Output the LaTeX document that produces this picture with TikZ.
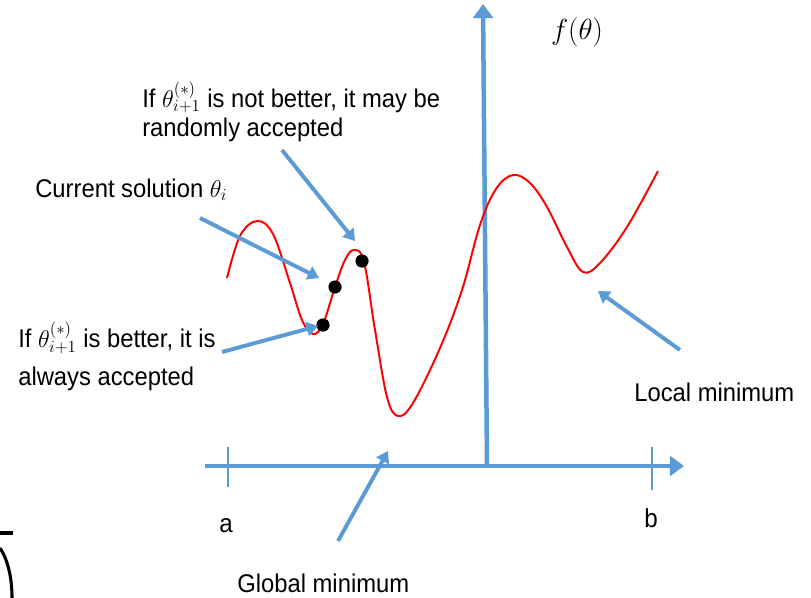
\documentclass[tikz,border=0pt]{standalone}
\usepackage{fontspec}
\setmainfont{Liberation Sans}[FakeStretch=0.93]
\usetikzlibrary{arrows.meta}

\definecolor{axisblue}{RGB}{91,155,213}

\begin{document}
\begin{tikzpicture}[x=0.025cm,y=-0.025cm,
  axisline/.style={axisblue,line width=3.2pt,-{Triangle[length=10pt,width=14pt]}},
  pointer/.style={axisblue,line width=2.8pt,-{Triangle[length=8pt,width=10pt]}},
  tickline/.style={axisblue,line width=1.8pt},
  txt/.style={anchor=base west,inner sep=0pt,align=left,font=\fontsize{18.2}{20.6}\selectfont},
  dot/.style={circle,fill=black,inner sep=0pt,minimum size=0.33cm}]
\useasboundingbox (0,0) rectangle (811,598);

% axes
\coordinate (xstart) at (205,466);
\coordinate (xend) at (684,466);
\coordinate (origin) at (487,466);
\coordinate (ytop) at (483,4);
\draw[axisline] (xstart) -- (xend);
\draw[axisline] (origin) -- (ytop);
\coordinate (ta1) at (228,447);
\coordinate (ta2) at (228,487);
\coordinate (tb1) at (652,447);
\coordinate (tb2) at (652,490);
\draw[tickline] (ta1) -- (ta2);
\draw[tickline] (tb1) -- (tb2);
\node[font=\fontsize{18.5}{20.6}\selectfont,anchor=base] (la) at (226,532) {a};
\node[font=\fontsize{18.5}{20.6}\selectfont,anchor=base] (lb) at (651,527) {b};
\node[font=\fontsize{22}{24}\selectfont] (lf) at (577,32) {$f(\theta)$};

% objective function
\draw[red,line width=1.4pt] plot[smooth,tension=0.6] coordinates {
  (227,278) (240,236) (257,221) (273,234) (290,283)
  (302,320) (313,334) (323,324) (335,287) (345,260)
  (354,250) (364,262) (375,330) (387,397) (398,416) (413,403)
  (440,348) (462,290) (480,225) (496,189) (513,175) (530,183) (547,207)
  (567,247) (583,272) (600,263) (627,227) (658,171)};

% candidate points
\node[dot] (d1) at (323,325) {};
\node[dot] (d2) at (335,287) {};
\node[dot] (d3) at (362,261) {};

% labels
\node[txt] (notbetter) at (142,136) {If $\theta^{(*)}_{i+1}$ is not better, it may be\\randomly accepted};
\node[txt] (current) at (35,197) {Current solution $\theta_i$};
\node[txt] (better) at (18,385) {If $\theta^{(*)}_{i+1}$ is better, it is\\[6.3pt]always accepted};
\node[txt] (localmin) at (634,401) {Local minimum};
\node[txt] (globalmin) at (237,592) {Global minimum};

% pointers
\coordinate (p1s) at (282,150);
\coordinate (p1e) at (355,241);
\coordinate (p2s) at (200,218);
\coordinate (p2e) at (319,278);
\coordinate (p3s) at (222,352);
\coordinate (p3e) at (318,326);
\coordinate (p4s) at (680,350);
\coordinate (p4e) at (598,291);
\coordinate (p5s) at (338,541);
\coordinate (p5e) at (388,451);
\draw[pointer] (p1s) -- (p1e);
\draw[pointer] (p2s) -- (p2e);
\draw[pointer] (p3s) -- (p3e);
\draw[pointer] (p4s) -- (p4e);
\draw[pointer] (p5s) -- (p5e);

% cut edge of a neighbouring figure
\coordinate (c1) at (0,533);
\coordinate (c2) at (13,533);
\draw[line width=2.2pt] (c1) -- (c2);
\coordinate (c3) at (0,548);
\coordinate (c4) at (12,598);
\draw[line width=2.2pt] (c3) .. controls (8,560) and (12,578) .. (c4);
\end{tikzpicture}
\end{document}
